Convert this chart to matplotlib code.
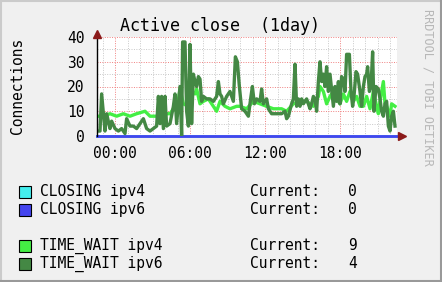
import matplotlib
matplotlib.use("Agg")
import matplotlib.pyplot as plt
from matplotlib.patches import Rectangle
from matplotlib.lines import Line2D

plt.rcParams['font.family'] = 'DejaVu Sans Mono'

# --- data (hours relative to 00:00) ---
tw6_hours = [-1.44, -1.20, -1.07, -0.80, -0.67, -0.40, -0.27, 0.00, 0.27, 0.53, 0.80, 0.93,
             1.20, 1.47, 1.73, 2.00, 2.27, 2.53, 2.80, 3.07, 3.33, 3.47, 3.60, 3.73, 3.87,
             4.00, 4.13, 4.40, 4.67, 4.80, 4.93, 5.20, 5.33, 5.41, 5.60, 5.73, 5.87, 6.00,
             6.13, 6.27, 6.40, 6.53, 6.67, 6.80, 6.93, 7.07, 7.33, 7.60, 7.87, 8.13, 8.27,
             8.40, 8.53, 8.67, 8.93, 9.20, 9.47, 9.63, 9.79, 9.95, 10.13, 10.40, 10.67, 10.85,
             10.99, 11.15, 11.33, 11.60, 11.73, 11.87, 12.13, 12.27, 12.53, 12.80, 13.07, 13.33,
             13.60, 13.73, 13.87, 14.13, 14.27, 14.40, 14.53, 14.67, 14.80, 14.93, 15.07, 15.33,
             15.60, 15.73, 15.87, 16.00, 16.13, 16.27, 16.40, 16.53, 16.67, 16.80, 16.93, 17.07,
             17.20, 17.47, 17.60, 17.73, 17.87, 18.00, 18.13, 18.27, 18.40, 18.53, 18.75, 18.88,
             19.01, 19.12, 19.28, 19.41, 19.60, 19.73, 19.87, 20.00, 20.13, 20.21, 20.35, 20.48,
             20.61, 20.72, 20.88, 21.07, 21.20, 21.33, 21.47, 21.60, 21.73, 21.87, 22.00, 22.13,
             22.27, 22.40]
tw6_values = [2, 2, 17, 2, 9, 3, 6, 3, 2, 3, 1, 7,
              4, 4, 3, 5, 7, 3, 2, 3, 4, 16, 5, 16, 3,
              16, 4, 5, 12, 17, 5, 20, 0, 38, 38, 10, 4, 37,
              5, 25, 22, 20, 24, 23, 14, 16, 15, 15, 14, 16, 22,
              17, 16, 13, 16, 18, 14, 32, 30, 20, 11, 10, 8, 15,
              20, 13, 15, 14, 19, 13, 15, 11, 9, 9, 9, 9,
              10, 7, 8, 13, 15, 29, 12, 15, 12, 15, 13, 15,
              11, 13, 16, 15, 10, 22, 30, 22, 25, 20, 28, 18,
              25, 12, 20, 14, 22, 13, 24, 23, 18, 33, 33, 18,
              12, 16, 26, 25, 18, 12, 20, 24, 25, 28, 18, 20,
              34, 10, 20, 19, 15, 10, 8, 13, 14, 4, 2, 8,
              10, 4]

tw4_hours = [-1.44, -0.93, -0.40, 0.13, 0.67, 1.20, 1.73, 2.40, 2.80, 3.33, 3.87, 4.40,
             4.67, 4.93, 5.20, 5.47, 5.87, 6.13, 6.40, 6.53, 6.80, 7.07, 7.47, 7.87, 8.13,
             8.40, 8.80, 9.20, 9.73, 10.00, 10.53, 11.07, 11.60, 12.13, 12.67, 13.33, 13.73,
             14.27, 14.80, 15.33, 15.87, 16.27, 16.40, 16.67, 16.93, 17.20, 17.47, 17.73, 18.00,
             18.27, 18.53, 18.80, 19.07, 19.33, 19.60, 19.87, 20.13, 20.40, 20.67, 20.93, 21.07,
             21.20, 21.47, 21.60, 21.73, 22.00, 22.13, 22.40]
tw4_values = [8, 8, 9, 8, 9, 8, 9, 10, 8, 8, 9, 9,
              11, 10, 19, 13, 12, 18, 17, 19, 13, 14, 15, 12, 10,
              14, 12, 11, 12, 12, 11, 14, 13, 12, 11, 11, 10,
              13, 14, 14, 12, 16, 20, 18, 13, 16, 18, 15, 13,
              17, 14, 18, 14, 16, 12, 12, 16, 11, 18, 12, 9,
              14, 22, 13, 12, 8, 13, 12]

closing_hours = [-1.44, 22.56]
closing4_values = [0, 0]
closing6_values = [0, 0]

legend_names = ["CLOSING ipv4", "CLOSING ipv6", "TIME_WAIT ipv4", "TIME_WAIT ipv6"]
legend_current = [0, 0, 9, 4]
colors = ["#44EEEE", "#4444EE", "#44EE44", "#448844"]

x_ticks = [0, 6, 12, 18]
x_labels = ["00:00", "06:00", "12:00", "18:00"]
y_ticks = [0, 10, 20, 30, 40]

W, H = 442, 282
fig = plt.figure(figsize=(W / 100, H / 100), dpi=100, facecolor="#F0F0F0")

# frame shading like rrdtool
fig.add_artist(Line2D([0, 1], [1 - 1 / H, 1 - 1 / H], transform=fig.transFigure, color="#CBCBCB", lw=1.5))
fig.add_artist(Line2D([1 / W, 1 / W], [0, 1], transform=fig.transFigure, color="#CBCBCB", lw=1.5))
fig.add_artist(Line2D([0, 1], [1 / H, 1 / H], transform=fig.transFigure, color="#999999", lw=1.5))
fig.add_artist(Line2D([1 - 1 / W, 1 - 1 / W], [0, 1], transform=fig.transFigure, color="#999999", lw=1.5))

ax = fig.add_axes([97 / W, (H - 136) / H, 300 / W, 99 / H])
ax.set_facecolor("white")
ax.set_xlim(-1.44, 22.56)
ax.set_ylim(0, 40)

# grid
for h in range(-1, 23):
    major = h % 6 == 0
    ax.axvline(h, color="#F08080" if major else "#C8C8C8", lw=0.7, ls=(0, (1, 1.5)), zorder=1)
for v in range(5, 41, 5):
    major = v % 10 == 0
    ax.axhline(v, color="#F08080" if major else "#C8C8C8", lw=0.7, ls=(0, (1, 1.5)), zorder=1)

for s in ax.spines.values():
    s.set_visible(False)

ax.plot(closing_hours, closing4_values, color=colors[0], lw=2, zorder=3, clip_on=False)
ax.plot(closing_hours, closing6_values, color=colors[1], lw=2, zorder=3, clip_on=False)
ax.plot(tw4_hours, tw4_values, color=colors[2], lw=2.4, zorder=4)
ax.plot(tw6_hours, tw6_values, color=colors[3], lw=2.4, zorder=5)

# axes lines and arrows
ax.plot([-1.44, -1.44], [0, 40.5], color="black", lw=1, zorder=6, clip_on=False)
ax.plot([-1.44, 22.9], [0, 0], color="black", lw=0.8, zorder=2, clip_on=False)
ax.plot([-1.44], [41.3], marker="^", color="#8B1A1A", ms=6, zorder=7, clip_on=False)
ax.plot([22.95], [0], marker=">", color="#8B1A1A", ms=6, zorder=7, clip_on=False)

ax.set_xticks(x_ticks)
ax.set_xticklabels(x_labels)
ax.set_yticks(y_ticks)
ax.tick_params(length=0, labelsize=10.5)
ax.tick_params(axis="x", pad=7)
ax.tick_params(axis="y", pad=9)

fig.text(220 / W, 1 - 26 / H, "Active close  (1day)", ha="center", va="center", fontsize=12)
fig.text(18 / W, 1 - 86 / H, "Connections", rotation=90, ha="center", va="center", fontsize=10.5)
fig.text(428 / W, 1 - 87 / H, "RRDTOOL / TOBI OETIKER", rotation=270, ha="center",
         va="center", fontsize=8.5, color="#B8B8B8")

# legend
rows_y = [191.5, 209.5, 245.5, 263.5]
for name, cur, col, yy in zip(legend_names, legend_current, colors, rows_y):
    fig.add_artist(Rectangle((19 / W, 1 - (yy + 6) / H), 12 / W, 12 / H, transform=fig.transFigure,
                             facecolor=col, edgecolor="black", lw=0.8))
    fig.text(40 / W, 1 - yy / H, name, ha="left", va="center", fontsize=10.5)
    fig.text(250 / W, 1 - yy / H, "Current:", ha="left", va="center", fontsize=10.5)
    fig.text(357 / W, 1 - yy / H, str(cur), ha="right", va="center", fontsize=10.5)

fig.savefig("out.png", dpi=100, facecolor=fig.get_facecolor())
